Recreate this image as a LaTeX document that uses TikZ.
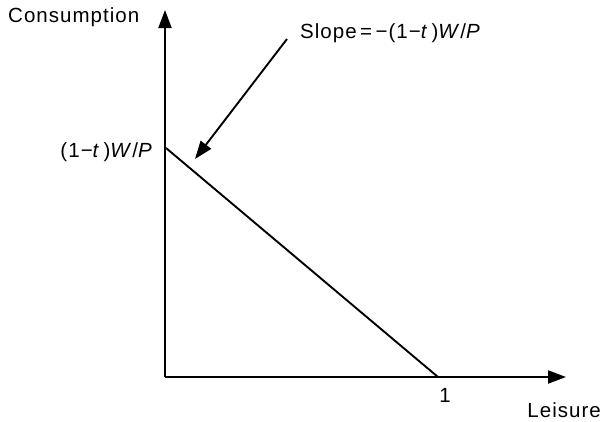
\documentclass[tikz,border=0pt]{standalone}
\usepackage{fontspec}
\setmainfont{Liberation Sans}[LetterSpace=5]
\usetikzlibrary{arrows.meta}
\begin{document}
\begin{tikzpicture}[x=1pt,y=-1pt,
  lbl/.style={inner sep=0pt,font=\fontsize{20.5}{22}\selectfont},
  tip/.style={-{Triangle[length=18pt,width=13pt]}},
  axis/.style={line width=2pt,tip},
  ln/.style={line width=1.9pt}]
\useasboundingbox (0,0) rectangle (602,421);
\coordinate (O) at (165,377);
\coordinate (ytop) at (165,10);
\coordinate (xend) at (566,377);
\coordinate (A) at (166,148);
\coordinate (B) at (438,377);
\coordinate (s) at (287,39);
\coordinate (e) at (195,159);
\draw[axis] (O) -- (ytop);
\draw[axis] (O) -- (xend);
\draw[ln] (A) -- (B);
\draw[ln,tip] (s) -- (e);
\node[lbl,anchor=west] (cons) at (8,17) {Consumption};
\node[lbl,anchor=west] (slope) at (300,33) {Slope\,=\,−(1−\textit{t}\,)\textit{W}/\textit{P}};
\node[lbl,anchor=east] (int) at (153,152) {(1−\textit{t}\,)\textit{W}/\textit{P}};
\node[lbl] (one) at (445,395) {1};
\node[lbl,anchor=east] (leis) at (601,410) {Leisure};
\end{tikzpicture}
\end{document}
